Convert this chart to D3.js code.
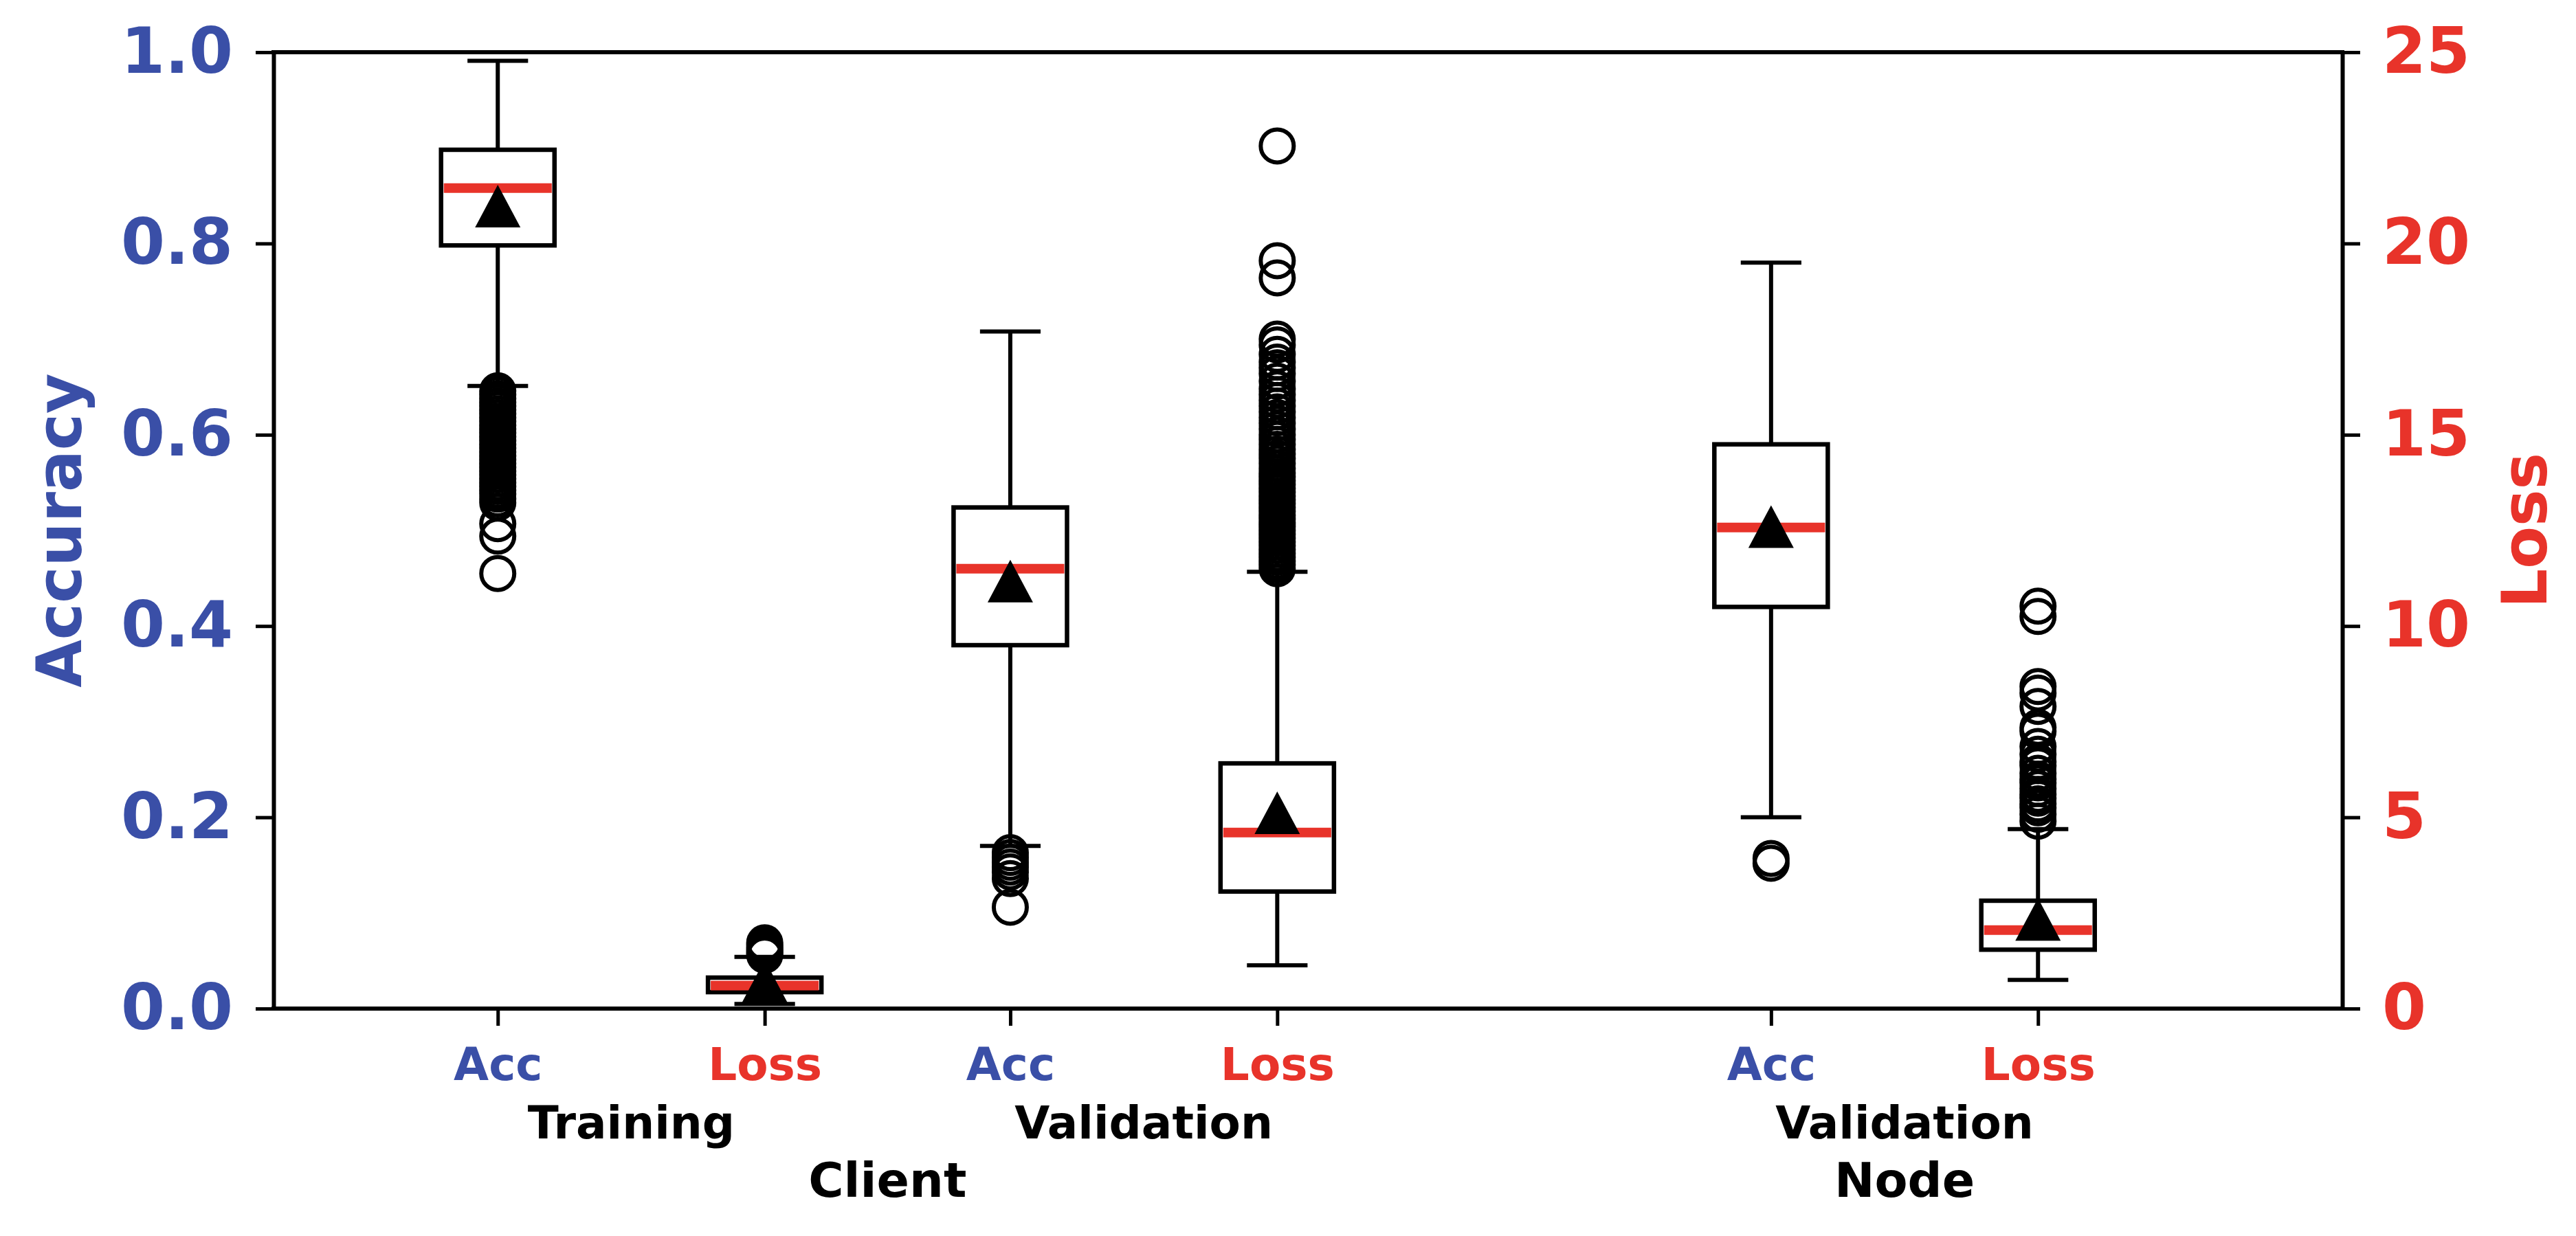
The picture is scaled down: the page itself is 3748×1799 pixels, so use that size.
<!DOCTYPE html>
<html><head><meta charset="utf-8">
<script src="https://cdn.jsdelivr.net/npm/d3@7"></script>
<style>
body{margin:0;background:#fff;}
text{font-family:"DejaVu Sans",sans-serif;font-weight:bold;}
</style>
</head><body>
<svg id="chart" width="3748" height="1799"></svg>
<script>
// ---------- data ----------
const categories = ["Acc", "Loss", "Acc", "Loss", "Acc", "Loss"];
const metricAxis = ["acc", "loss", "acc", "loss", "acc", "loss"];
const positions = [1, 2, 2.92, 3.92, 5.77, 6.77];
const groupLabels = ["Training", "Validation", "Validation"];
const groupMembers = [[0, 1], [2, 3], [4, 5]];
const outerLabels = ["Client", "Node"];
const outerMembers = [[0, 3], [4, 5]];

const whiskerLow  = [0.651, 0.12, 0.170, 1.13, 0.200, 0.75];
const q1          = [0.798, 0.43, 0.380, 3.06, 0.420, 1.54];
const median      = [0.858, 0.60, 0.460, 4.60, 0.503, 2.05];
const q3          = [0.898, 0.81, 0.524, 6.41, 0.590, 2.82];
const whiskerHigh = [0.991, 1.35, 0.708, 11.42, 0.780, 4.69];
const means       = [0.839, 0.72, 0.447, 5.12, 0.504, 2.33];

const trainAccOut = [0.646, 0.642, 0.638, 0.634, 0.630, 0.626, 0.622, 0.618, 0.614, 0.610,
  0.606, 0.602, 0.598, 0.594, 0.590, 0.586, 0.582, 0.578, 0.574, 0.570, 0.566, 0.562,
  0.558, 0.554, 0.550, 0.546, 0.542, 0.538, 0.533, 0.529, 0.507, 0.494, 0.455];
const trainLossOut = [1.72, 1.66, 1.60, 1.55, 1.50, 1.45, 1.40];
const valAccOut = [0.163, 0.158, 0.153, 0.148, 0.143, 0.136, 0.106];
const valLossOut = [22.55, 19.55, 19.10, 17.50, 17.35, 17.10, 16.90, 16.75, 16.60, 16.40,
  16.20, 16.05, 15.90, 15.75, 15.60, 15.45, 15.30, 15.15, 15.00, 14.88, 14.75, 14.62,
  14.50, 14.38, 14.25, 14.12, 14.00, 13.90, 13.80, 13.70, 13.60, 13.50, 13.40, 13.30,
  13.20, 13.10, 13.00, 12.90, 12.80, 12.70, 12.60, 12.50, 12.40, 12.30, 12.20, 12.10,
  12.00, 11.90, 11.80, 11.70, 11.60, 11.50];
const nodeAccOut = [0.157, 0.152];
const nodeLossOut = [10.52, 10.25, 8.42, 8.25, 7.90, 7.35, 7.25, 6.85, 6.65, 6.45, 6.35,
  6.15, 6.00, 5.90, 5.75, 5.60, 5.50, 5.35, 5.25, 5.08, 4.90];
const outliers = [trainAccOut, trainLossOut, valAccOut, valLossOut, nodeAccOut, nodeLossOut];

const accTicks = [0, 0.2, 0.4, 0.6, 0.8, 1.0];
const lossTicks = [0, 5, 10, 15, 20, 25];

// ---------- style ----------
const BLUE = "#3a4fa7", RED = "#e8332a";
const plot = {left: 398, right: 3408, top: 76, bottom: 1468};

const svg = d3.select("#chart");
svg.append("rect").attr("width", 3748).attr("height", 1799).attr("fill", "#fff");

const x = d3.scaleLinear().domain([0.16, 7.91]).range([plot.left, plot.right]);
const yAcc = d3.scaleLinear().domain([0, 1]).range([plot.bottom, plot.top]);
const yLoss = d3.scaleLinear().domain([0, 25]).range([plot.bottom, plot.top]);
const yOf = i => metricAxis[i] === "acc" ? yAcc : yLoss;

const boxW = 0.425, capW = 0.227;
const LW = 6;

// ---------- boxes ----------
const g = svg.append("g");
positions.forEach((p, i) => {
  const y = yOf(i);
  const cx = x(p);
  const bx0 = x(p - boxW / 2), bx1 = x(p + boxW / 2);
  const cx0 = x(p - capW / 2), cx1 = x(p + capW / 2);
  const bg = g.append("g");
  // whiskers
  bg.append("line").attr("x1", cx).attr("x2", cx).attr("y1", y(q3[i])).attr("y2", y(whiskerHigh[i]))
    .attr("stroke", "#000").attr("stroke-width", LW);
  bg.append("line").attr("x1", cx).attr("x2", cx).attr("y1", y(q1[i])).attr("y2", y(whiskerLow[i]))
    .attr("stroke", "#000").attr("stroke-width", LW);
  // caps
  [whiskerHigh[i], whiskerLow[i]].forEach(v => {
    bg.append("line").attr("x1", cx0).attr("x2", cx1).attr("y1", y(v)).attr("y2", y(v))
      .attr("stroke", "#000").attr("stroke-width", LW);
  });
  // box
  bg.append("rect").attr("x", bx0).attr("y", y(q3[i])).attr("width", bx1 - bx0)
    .attr("height", y(q1[i]) - y(q3[i])).attr("fill", "none").attr("stroke", "#000").attr("stroke-width", 6.5);
  // median
  bg.append("line").attr("x1", bx0 + 4).attr("x2", bx1 - 4).attr("y1", y(median[i])).attr("y2", y(median[i]))
    .attr("stroke", RED).attr("stroke-width", 14);
  // outliers
  bg.selectAll("circle.out").data(outliers[i]).enter().append("circle")
    .attr("cx", cx).attr("cy", d => y(d)).attr("r", 24)
    .attr("fill", "none").attr("stroke", "#000").attr("stroke-width", 6);
  // mean triangle
  const my = y(means[i]);
  bg.append("path").attr("d", `M${cx},${my - 31}L${cx - 33},${my + 31}L${cx + 33},${my + 31}Z`)
    .attr("fill", "#000");
});

// ---------- axes ----------
const axL = svg.append("g").attr("transform", `translate(${plot.left},0)`)
  .call(d3.axisLeft(yAcc).tickValues(accTicks).tickFormat(d3.format(".1f")).tickSize(26).tickSizeOuter(0).tickPadding(33));
const axR = svg.append("g").attr("transform", `translate(${plot.right},0)`)
  .call(d3.axisRight(yLoss).tickValues(lossTicks).tickFormat(d3.format("d")).tickSize(26).tickSizeOuter(0).tickPadding(32));
const axB = svg.append("g").attr("transform", `translate(0,${plot.bottom})`)
  .call(d3.axisBottom(x).tickValues(positions).tickFormat((d, i) => categories[i]).tickSize(25).tickSizeOuter(0));
svg.append("line").attr("x1", plot.left - 3).attr("x2", plot.right + 3).attr("y1", plot.top).attr("y2", plot.top)
  .attr("stroke", "#000").attr("stroke-width", 6);

[axL, axR, axB].forEach(a => {
  a.select(".domain").attr("stroke", "#000").attr("stroke-width", 6);
  a.selectAll(".tick line").attr("stroke", "#000").attr("stroke-width", 5);
});
axL.selectAll(".tick text").attr("fill", BLUE).style("font-size", "92px").style("font-family", "DejaVu Sans").style("font-weight", "bold");
axR.selectAll(".tick text").attr("fill", RED).style("font-size", "92px").style("font-family", "DejaVu Sans").style("font-weight", "bold");
axB.selectAll(".tick text")
  .attr("fill", (d, i) => metricAxis[i] === "acc" ? BLUE : RED)
  .attr("y", 104).attr("dy", null)
  .style("font-size", "66px").style("font-family", "DejaVu Sans").style("font-weight", "bold");
axB.select(".domain").attr("d", `M${plot.left - 3},0H${plot.right + 3}`);

// ---------- group labels ----------
groupLabels.forEach((t, k) => {
  const [a, b] = groupMembers[k];
  svg.append("text").attr("x", x((positions[a] + positions[b]) / 2)).attr("y", 1657)
    .attr("text-anchor", "middle").attr("fill", "#000").style("font-size", "66px").text(t);
});
outerLabels.forEach((t, k) => {
  const [a, b] = outerMembers[k];
  svg.append("text").attr("x", x((positions[a] + positions[b]) / 2)).attr("y", 1742)
    .attr("text-anchor", "middle").attr("fill", "#000").style("font-size", "70px").text(t);
});

// ---------- axis titles ----------
svg.append("text").attr("transform", `translate(118,${(plot.top + plot.bottom) / 2}) rotate(-90)`)
  .attr("text-anchor", "middle").attr("fill", BLUE).style("font-size", "90px").text("Accuracy");
svg.append("text").attr("transform", `translate(3705,${(plot.top + plot.bottom) / 2}) rotate(-90)`)
  .attr("text-anchor", "middle").attr("fill", RED).style("font-size", "90px").text("Loss");
</script>
</body></html>
